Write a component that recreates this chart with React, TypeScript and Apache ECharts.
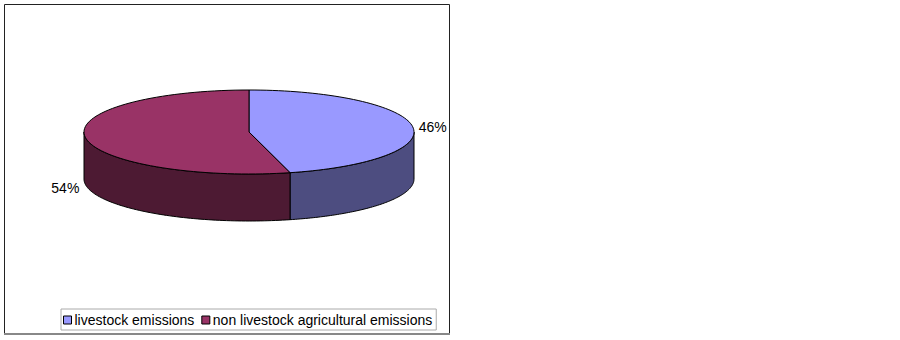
import React, { useEffect, useRef } from "react";
import * as echarts from "echarts";

const CATEGORIES = ["livestock emissions", "non livestock agricultural emissions"];
const VALUES = [46, 54];

const TOP_COLORS = ["#9999FF", "#993366"];
const SIDE_COLORS = ["#4D4D80", "#4D1A33"];

const FONT = '14px "Liberation Sans", Arial, sans-serif';

export default function App() {
  const ref = useRef<HTMLDivElement>(null);

  useEffect(() => {
    if (!ref.current) return;
    const chart = echarts.init(ref.current, undefined, { renderer: "svg" });
    const total = VALUES.reduce((a, b) => a + b, 0);
    const starts: number[] = [];
    let acc = 0;
    VALUES.forEach((v) => {
      starts.push(acc);
      acc += v;
    });

    const cx = 249;
    const cy = 132;
    const rx = 165;
    const ry = 42;
    const depth = 47;

    const makeRender = (idx: number) => (params: any, api: any) => {
      const start = api.value(0);
      const val = api.value(1);
      const tot = api.value(2);
      const a0 = -Math.PI / 2 + (2 * Math.PI * start) / tot;
      const a1 = a0 + (2 * Math.PI * val) / tot;
      const N = 80;
      const top: number[][] = [[cx, cy]];
      for (let k = 0; k <= N; k++) {
        const a = a0 + ((a1 - a0) * k) / N;
        top.push([cx + rx * Math.cos(a), cy + ry * Math.sin(a)]);
      }
      const children: any[] = [];
      const s = Math.max(a0, 0);
      const e = Math.min(a1, Math.PI);
      if (e > s) {
        const pts: number[][] = [];
        for (let k = 0; k <= N; k++) {
          const a = s + ((e - s) * k) / N;
          pts.push([cx + rx * Math.cos(a), cy + ry * Math.sin(a)]);
        }
        for (let k = N; k >= 0; k--) {
          const a = s + ((e - s) * k) / N;
          pts.push([cx + rx * Math.cos(a), cy + ry * Math.sin(a) + depth]);
        }
        children.push({
          type: "polygon",
          shape: { points: pts },
          style: { fill: SIDE_COLORS[idx], stroke: "#000", lineWidth: 1 },
        });
      }
      children.push({
        type: "polygon",
        shape: { points: top },
        style: { fill: TOP_COLORS[idx], stroke: "#000", lineWidth: 1 },
      });
      const m = (a0 + a1) / 2;
      const cosm = Math.cos(m);
      const sinm = Math.sin(m);
      const lx = cx + (rx + 6) * cosm;
      const ly = cy + ry * sinm + (sinm > 0 ? depth + 4 : 0);
      children.push({
        type: "text",
        style: {
          text: Math.round((val / tot) * 100) + "%",
          x: lx,
          y: ly,
          align: cosm >= 0 ? "left" : "right",
          verticalAlign: "middle",
          fill: "#000",
          font: FONT,
        },
      });
      return { type: "group", children };
    };

    const series = CATEGORIES.map((name, i) => ({
      type: "custom",
      name,
      coordinateSystem: "none",
      itemStyle: { color: TOP_COLORS[i] },
      data: [[starts[i], VALUES[i], total]],
      renderItem: makeRender(i),
    }));

    chart.setOption({
      animation: false,
      backgroundColor: "#fff",
      legend: {
        left: 61,
        top: 309,
        orient: "horizontal",
        icon: "rect",
        itemWidth: 8,
        itemHeight: 8,
        itemGap: 7,
        padding: [4, 4, 3, 2],
        borderColor: "#aaa",
        borderWidth: 1,
        selectedMode: false,
        itemStyle: { borderColor: "#000", borderWidth: 1 },
        textStyle: {
          fontFamily: '"Liberation Sans", Arial, sans-serif',
          fontSize: 14,
          color: "#000",
          padding: [0, 0, 0, -2],
        },
        data: CATEGORIES,
      },
      graphic: [
        {
          type: "rect",
          shape: { x: 4.5, y: 4.5, width: 445, height: 329 },
          style: { fill: "none", stroke: "#222", lineWidth: 1 },
          silent: true,
        },
        {
          type: "line",
          shape: { x1: 4, y1: 334, x2: 450, y2: 334 },
          style: { stroke: "#888", lineWidth: 2 },
          silent: true,
        },
      ],
      series,
    });

    return () => chart.dispose();
  }, []);

  return (
    <div
      ref={ref}
      style={{ position: "absolute", left: 0, top: 0, width: 900, height: 340 }}
    />
  );
}
